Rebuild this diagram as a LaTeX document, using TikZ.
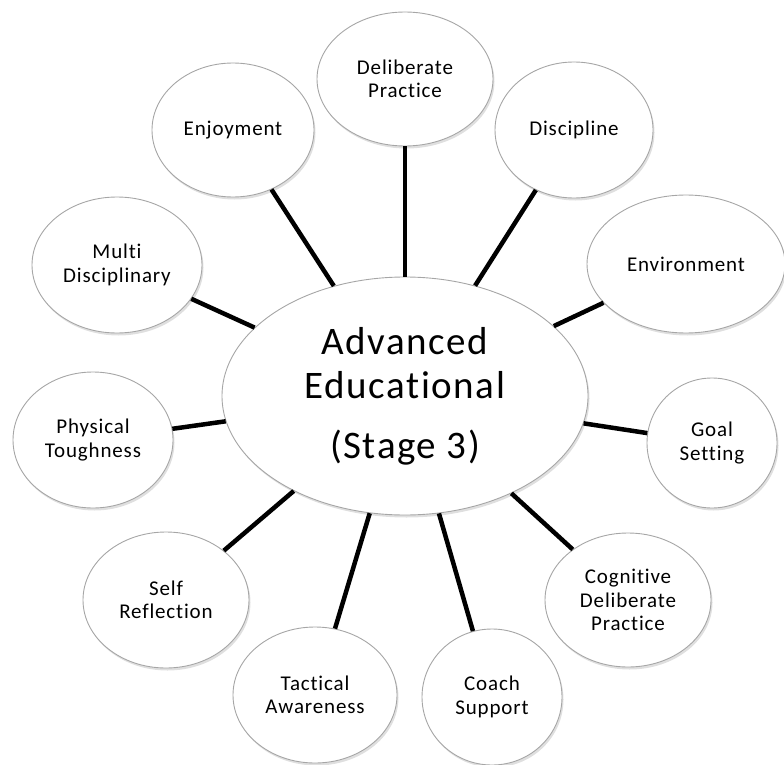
\documentclass[tikz,border=0pt]{standalone}
\usepackage{fontspec}
\setmainfont[LetterSpace=4,Ligatures=NoCommon,RawFeature=-liga]{Carlito}
\usetikzlibrary{shapes.geometric,shadows}

\begin{document}
\begin{tikzpicture}[x=1pt,y=-1pt,
    bubble/.style={ellipse, draw=gray!70, line width=0.9pt, fill=white,
        inner sep=0pt, align=center,
        font=\fontsize{21}{23.5}\selectfont,
        drop shadow={opacity=0.25, shadow xshift=1.5pt, shadow yshift=-2.5pt}},
    link/.style={line width=4.5pt}]

    \useasboundingbox (0,0) rectangle (784,765);

    % centre
    \node[bubble, minimum width=366pt, minimum height=238pt,
        font=\fontsize{39}{44}\selectfont] (hub) at (405,396)
        {Advanced\\Educational\\[16pt](Stage 3)};

    % outer ring
    \node[bubble, minimum width=176pt, minimum height=134pt] (delib) at (405,79) {Deliberate\\Practice};
    \node[bubble, minimum width=158pt, minimum height=136pt] (disc) at (574,130) {Discipline};
    \node[bubble, minimum width=198pt, minimum height=138pt] (env) at (686,264) {Environment};
    \node[bubble, minimum width=130pt, minimum height=130pt] (goal) at (712,443) {Goal\\Setting};
    \node[bubble, minimum width=166pt, minimum height=134pt] (cogn) at (628,600) {Cognitive\\Deliberate\\Practice};
    \node[bubble, minimum width=140pt, minimum height=136pt] (coach) at (492,697) {Coach\\Support};
    \node[bubble, minimum width=164pt, minimum height=136pt] (tact) at (315,695) {Tactical\\Awareness};
    \node[bubble, minimum width=166pt, minimum height=136pt] (self) at (166,600) {Self\\Reflection};
    \node[bubble, minimum width=160pt, minimum height=136pt] (phys) at (93,440) {Physical\\Toughness};
    \node[bubble, minimum width=170pt, minimum height=136pt] (multi) at (117,265) {Multi\\Disciplinary};
    \node[bubble, minimum width=162pt, minimum height=134pt] (enjoy) at (233,130) {Enjoyment};

    \foreach \n in {delib,disc,env,goal,cogn,coach,tact,self,phys,multi,enjoy}
        \draw[link] (hub) -- (\n);

\end{tikzpicture}
\end{document}
